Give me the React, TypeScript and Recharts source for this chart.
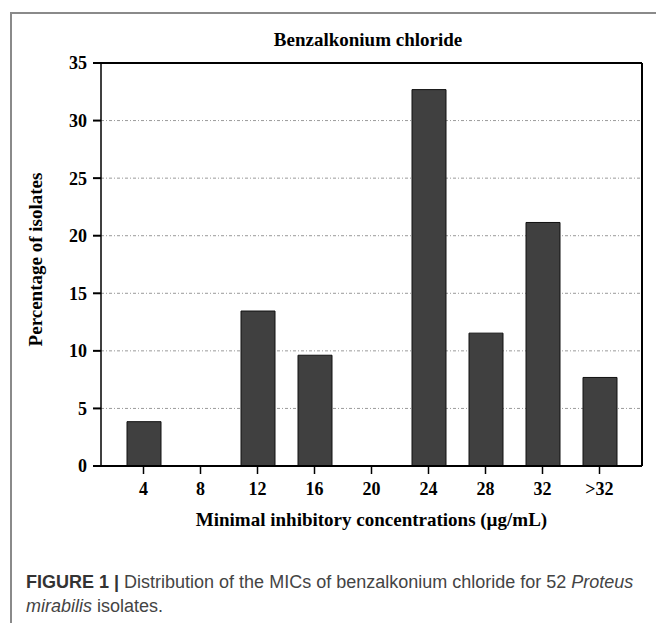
import React from "react";
import {
  BarChart, Bar, XAxis, YAxis, CartesianGrid, ReferenceLine, Label,
} from "recharts";

// MIC categories (µg/mL) and share of the 52 isolates in each
const categories = ["4", "8", "12", "16", "20", "24", "28", "32", ">32"];
const percentages = [3.85, 0, 13.46, 9.62, 0, 32.69, 11.54, 21.15, 7.69];
const yTicks = [0, 5, 10, 15, 20, 25, 30, 35];

const chartData = categories.map((mic, i) => ({ mic, pct: percentages[i] }));

const SERIF = "'Liberation Serif', 'Times New Roman', serif";
const SANS = "'Liberation Sans', Arial, sans-serif";

const tickStyle = { fontFamily: SERIF, fontWeight: 700, fontSize: 18, fill: "#000" };

const YTitle = ({ viewBox }: any) => {
  const cy = viewBox.y + viewBox.height / 2 - 5;
  return (
    <text
      x={35}
      y={cy}
      transform={`rotate(-90, 35, ${cy})`}
      textAnchor="middle"
      dominantBaseline="central"
      style={{ fontFamily: SERIF, fontWeight: 700, fontSize: 19, fill: "#000" }}
    >
      Percentage of isolates
    </text>
  );
};

export default function App() {
  return (
    <div style={{ position: "absolute", left: 0, top: 0, width: 656, height: 623, background: "#fff", overflow: "hidden" }}>
      {/* figure frame */}
      <div
        style={{
          position: "absolute", left: 10, top: 12, width: 660, height: 640,
          borderTop: "2px solid #8a8a8a", borderLeft: "2px solid #8a8a8a",
        }}
      />
      <div
        style={{
          position: "absolute", left: 368, top: 29, transform: "translateX(-50%)",
          fontFamily: SERIF, fontWeight: 700, fontSize: 19, lineHeight: "22px", whiteSpace: "nowrap",
        }}
      >
        Benzalkonium chloride
      </div>
      <div style={{ position: "absolute", left: 0, top: 0 }}>
        <BarChart
          width={656}
          height={623}
          data={chartData}
          margin={{ top: 63, right: 0, bottom: 97, left: 0 }}
          barSize={34}
        >
          <CartesianGrid vertical={false} stroke="#9a9a9a" strokeDasharray="3 2 1 2" />
          <XAxis
            dataKey="mic"
            height={60}
            padding={{ left: 14, right: 14 }}
            tickSize={8}
            tickMargin={8}
            tick={tickStyle}
            tickLine={{ stroke: "#000", strokeWidth: 1.5 }}
            axisLine={{ stroke: "#000", strokeWidth: 2 }}
          >
            <Label
              value="Minimal inhibitory concentrations (µg/mL)"
              position="insideBottom"
              offset={0}
              style={{ fontFamily: SERIF, fontWeight: 700, fontSize: 19, fill: "#000" }}
            />
          </XAxis>
          <YAxis
            width={101}
            domain={[0, 35]}
            ticks={yTicks}
            interval={0}
            tickSize={8}
            tickMargin={6}
            tick={tickStyle}
            tickLine={{ stroke: "#000", strokeWidth: 2 }}
            axisLine={{ stroke: "#000", strokeWidth: 1.5 }}
          >
            <Label content={YTitle} />
          </YAxis>
          <YAxis
            yAxisId="right"
            orientation="right"
            width={14}
            domain={[0, 35]}
            tick={false}
            tickLine={false}
            axisLine={{ stroke: "#000", strokeWidth: 2 }}
          />
          <ReferenceLine y={35} stroke="#000" strokeWidth={2} />
          <Bar dataKey="pct" fill="#404040" stroke="#111" strokeWidth={1} isAnimationActive={false} />
        </BarChart>
      </div>
      <div
        style={{
          position: "absolute", left: 26, top: 570, fontFamily: SANS, fontSize: 18,
          lineHeight: "24px", color: "#444", whiteSpace: "nowrap",
        }}
      >
        <span style={{ fontWeight: 700, color: "#333" }}>FIGURE 1 | </span>
        Distribution of the MICs of benzalkonium chloride for 52 <i>Proteus</i>
        <br />
        <i>mirabilis</i> isolates.
      </div>
    </div>
  );
}
